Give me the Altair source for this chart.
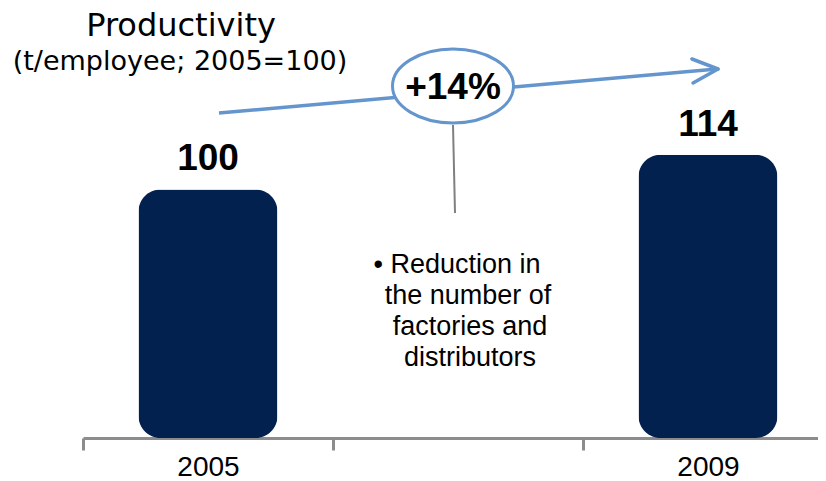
import altair as alt
import pandas as pd

# ---- data ----
years = ["2005", "2009"]
values = [100, 114]
axis_categories = ["2005", " ", "2009"]

title_text = "Productivity"
subtitle_text = "(t/employee;  2005=100)"
growth_label = "+14%"
note_lines = ["\u2022 Reduction in", "the number of", "factories and", "distributors"]

bar_color = "#03214f"
arrow_color = "#6495cd"

df = pd.DataFrame({"year": years, "value": values})

W, H = 735, 430

x_enc = alt.X(
    "year:N",
    scale=alt.Scale(domain=axis_categories, range=[0, 750], paddingInner=0, paddingOuter=0),
    axis=alt.Axis(
        title=None, tickBand="extent", tickSize=12, domainColor="#8c8c8c", domainWidth=3,
        tickColor="#8c8c8c", tickWidth=3, labelFont="Liberation Sans", labelFontSize=28,
        labelColor="black", labelPadding=3, labelAngle=0, grid=False,
    ),
)
y_enc = alt.Y("value:Q", scale=alt.Scale(domain=[0, 173]), axis=None)

base = alt.Chart(df)

bars = base.mark_bar(size=139, cornerRadius=22, color=bar_color).encode(x=x_enc, y=y_enc)

value_labels = base.mark_text(
    font="Liberation Sans", fontSize=37, fontWeight="bold", dy=-19, baseline="alphabetic", color="black"
).encode(x=x_enc, y=y_enc, text="value:Q")

# ---- annotations ----
ann = pd.DataFrame({"k": [0]})
a = alt.Chart(ann)

arrow_line = a.mark_rule(color=arrow_color, strokeWidth=3.5).encode(
    x=alt.value(136), y=alt.value(105), x2=alt.value(634), y2=alt.value(61)
)
head1 = a.mark_rule(color=arrow_color, strokeWidth=3.5, strokeCap="round").encode(
    x=alt.value(609), y=alt.value(51), x2=alt.value(635), y2=alt.value(61)
)
head2 = a.mark_rule(color=arrow_color, strokeWidth=3.5, strokeCap="round").encode(
    x=alt.value(610), y=alt.value(75), x2=alt.value(635), y2=alt.value(61)
)
connector = a.mark_rule(color="#808080", strokeWidth=2).encode(
    x=alt.value(370), y=alt.value(117), x2=alt.value(372), y2=alt.value(205)
)
ellipse_path = "M -1 0 A 1 0.61 0 1 0 1 0 A 1 0.61 0 1 0 -1 0 Z"
ellipse = a.mark_point(
    shape=ellipse_path, size=121 * 121, filled=False, fill="white", fillOpacity=1,
    stroke=arrow_color, strokeWidth=3, opacity=1,
).encode(x=alt.value(370), y=alt.value(78))

growth = a.mark_text(
    text=growth_label, font="Liberation Sans", fontSize=37, fontWeight="bold", color="black",
    baseline="alphabetic", align="center",
).encode(x=alt.value(370), y=alt.value(91))

title = a.mark_text(
    text=title_text, font="DejaVu Sans", fontSize=32, color="black", baseline="alphabetic", align="center"
).encode(x=alt.value(98), y=alt.value(28))
subtitle = a.mark_text(
    text=subtitle_text, font="DejaVu Sans", fontSize=27, color="black", baseline="alphabetic", align="center"
).encode(x=alt.value(97), y=alt.value(62))

note_pos = [(374, 265), (385, 296), (387, 327), (387, 358)]
notes = []
for line, (nx, ny) in zip(note_lines, note_pos):
    notes.append(
        a.mark_text(
            text=line, font="Liberation Sans", fontSize=27, color="black", baseline="alphabetic", align="center"
        ).encode(x=alt.value(nx), y=alt.value(ny))
    )

chart = alt.layer(
    bars, value_labels, arrow_line, head1, head2, connector, ellipse, growth, title, subtitle, *notes
).properties(
    width=W, height=H,
    padding={"left": 75, "top": 0, "right": 0, "bottom": 40},
    autosize=alt.AutoSizeParams(type="none"),
).configure_view(stroke=None)

chart.save("out.html", embed_options={"renderer": "svg", "actions": False})
